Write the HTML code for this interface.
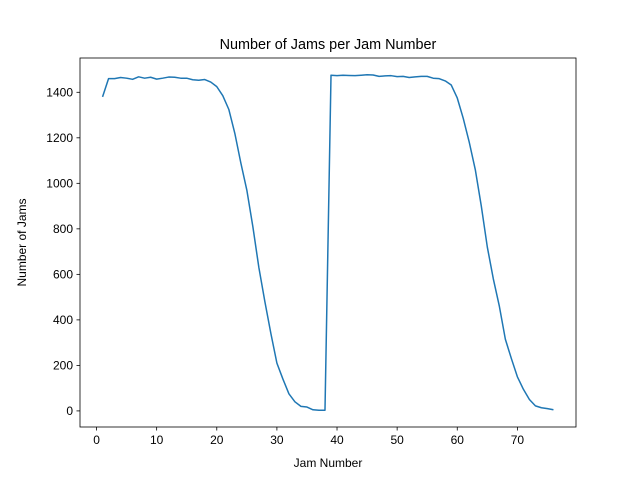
<!DOCTYPE html>
<html><head><meta charset="utf-8"><style>
body{margin:0;background:#fff;}
svg{display:block;font-family:"Liberation Sans","DejaVu Sans",sans-serif;}
</style></head><body>
<svg id="chart" width="640" height="480" xmlns="http://www.w3.org/2000/svg">
<rect width="640" height="480" fill="#fff"/>
<text x="328" y="49" font-size="14.4" text-anchor="middle">Number of Jams per Jam Number</text>
<g id="xt"></g>
<g id="yt"></g>
<path id="line" fill="none" stroke="#1f77b4" stroke-width="1.5" stroke-linejoin="round"/>
<rect x="80" y="58" width="496" height="369" fill="none" stroke="#000" stroke-width="0.8"/>
<text x="328" y="467" font-size="12" text-anchor="middle">Jam Number</text>
<text transform="translate(26,242.5) rotate(-90)" font-size="12" text-anchor="middle">Number of Jams</text>
</svg>
<script>
const jamCounts=[1380,1460,1460,1465,1462,1457,1468,1462,1466,1458,1462,1467,1466,1462,1462,1455,1453,1456,1445,1425,1385,1325,1220,1090,970,810,630,480,340,210,140,75,40,20,17,5,3,3,1475,1473,1475,1474,1473,1475,1477,1476,1470,1472,1473,1469,1470,1465,1468,1470,1470,1462,1460,1450,1432,1375,1285,1180,1060,900,720,580,460,315,230,150,95,50,22,14,10,5];
const xTicks=[0,10,20,30,40,50,60,70];
const yTicks=[0,200,400,600,800,1000,1200,1400];
const NS="http://www.w3.org/2000/svg";
const L=80,R=576,T=58,B=427;
const xs=jamCounts.map((_,i)=>i+1);
const xmin0=Math.min(...xs),xmax0=Math.max(...xs),ymin0=Math.min(...jamCounts),ymax0=Math.max(...jamCounts);
const xm=(xmax0-xmin0)*0.05,ym=(ymax0-ymin0)*0.05;
const X=v=>L+(v-(xmin0-xm))/((xmax0+xm)-(xmin0-xm))*(R-L);
const Y=v=>B-(v-(ymin0-ym))/((ymax0+ym)-(ymin0-ym))*(B-T);
document.getElementById('line').setAttribute('d',jamCounts.map((v,i)=>(i?'L':'M')+X(xs[i]).toFixed(2)+','+Y(v).toFixed(2)).join(''));
const xt=document.getElementById('xt'),yt=document.getElementById('yt');
xTicks.forEach(t=>{
 const l=document.createElementNS(NS,'line');
 
 
 l.setAttribute('x1',X(t));l.setAttribute('x2',X(t));l.setAttribute('y1',B);l.setAttribute('y2',B+3.5);l.setAttribute('stroke','#000');l.setAttribute('stroke-width','0.8');xt.appendChild(l);
 const s=document.createElementNS(NS,'text');
 
 
 s.setAttribute('x',X(t));s.setAttribute('y',B+17);s.setAttribute('font-size','12');s.setAttribute('text-anchor','middle');s.textContent=t;xt.appendChild(s);
});
yTicks.forEach(t=>{
 const l=document.createElementNS(NS,'line');
 
 
 l.setAttribute('x1',L-3.5);l.setAttribute('x2',L);l.setAttribute('y1',Y(t));l.setAttribute('y2',Y(t));l.setAttribute('stroke','#000');l.setAttribute('stroke-width','0.8');yt.appendChild(l);
 const s=document.createElementNS(NS,'text');
 
 
 s.setAttribute('x',L-7);s.setAttribute('y',Y(t)+4.3);s.setAttribute('font-size','12');s.setAttribute('text-anchor','end');s.textContent=t;yt.appendChild(s);
});
</script>
</body></html>
